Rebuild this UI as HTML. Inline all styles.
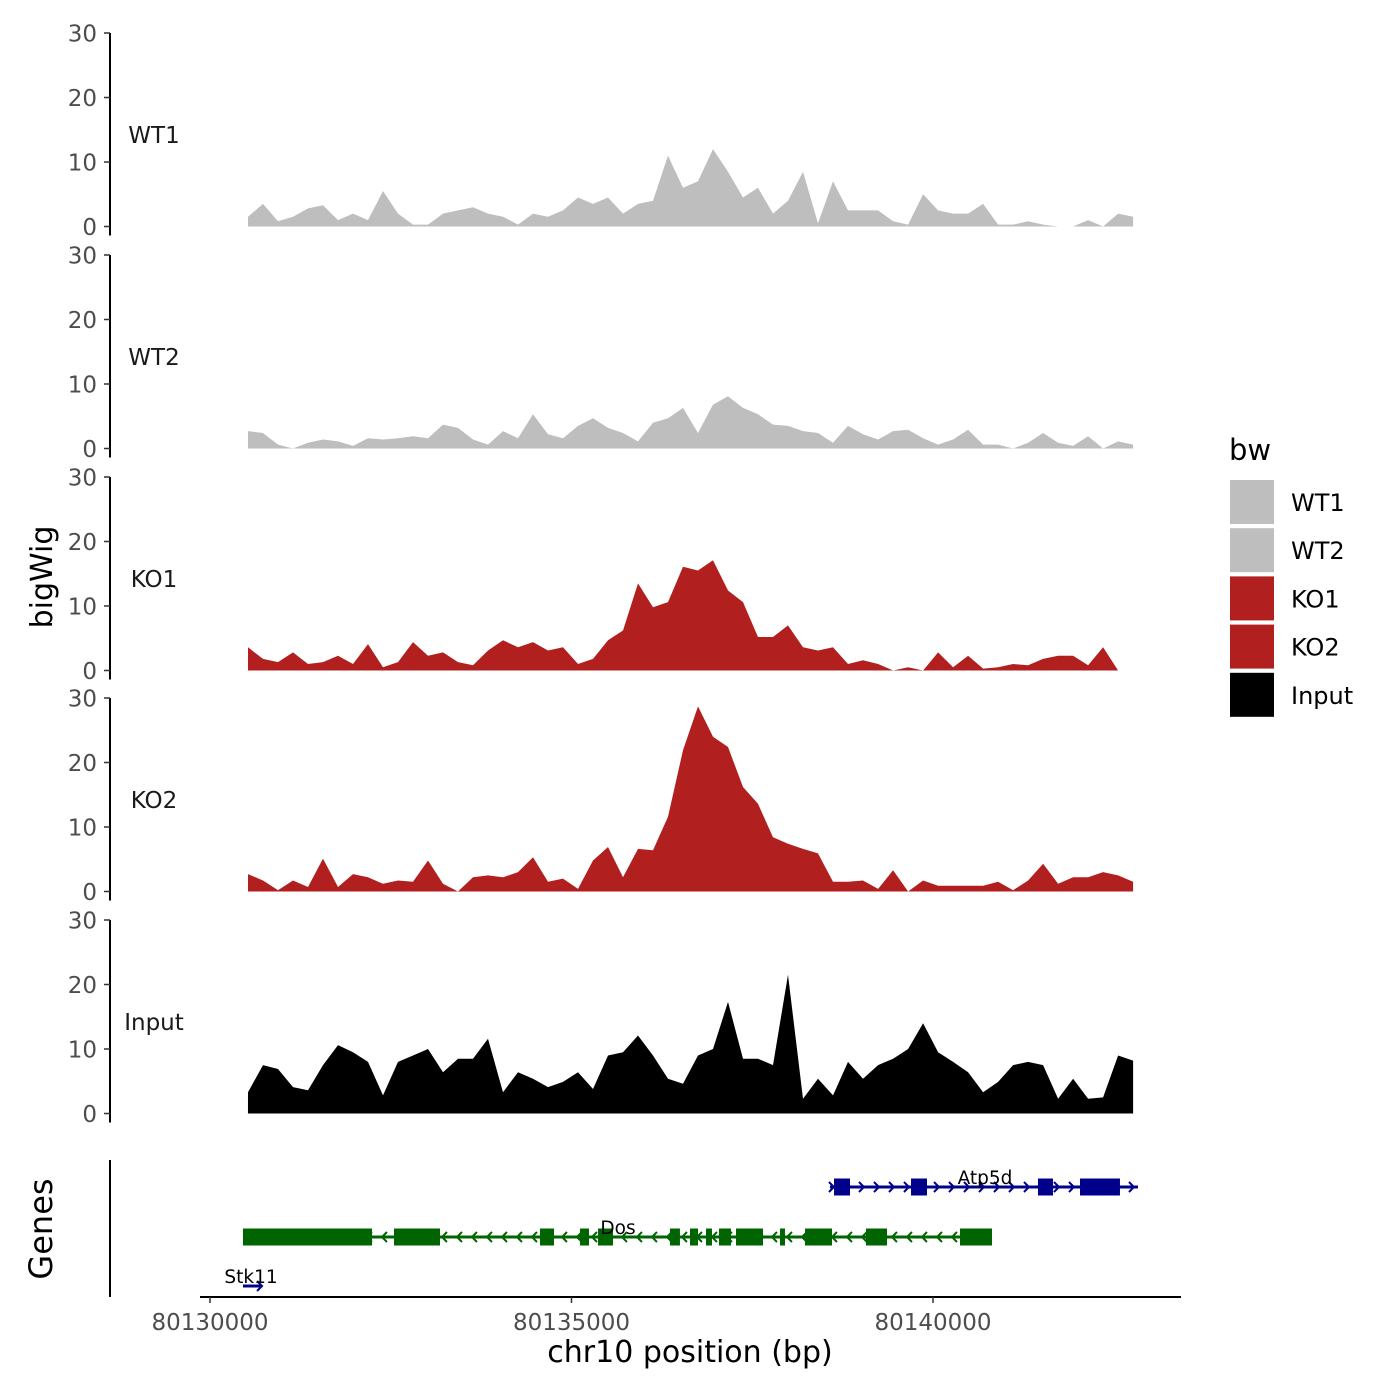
<!DOCTYPE html>
<html><head><meta charset="utf-8"><style>
html,body{margin:0;padding:0;background:#fff;}
svg{display:block;font-family:"DejaVu Sans","Liberation Sans",sans-serif;}
</style></head><body>
<svg id="chart" width="1400" height="1400" viewBox="0 0 1400 1400" xmlns="http://www.w3.org/2000/svg"></svg>
<script>
const trackNames = ["WT1","WT2","KO1","KO2","Input"];
const trackColors = ["#bebebe","#bebebe","#b21f1f","#b21f1f","#000000"];
const yTicks = [0,10,20,30];
const xTicks = [80130000,80135000,80140000];
const xTickLabels = ["80130000","80135000","80140000"];
const binStart = 80130525;
const binStep = 207.5;
const wt1 = [1.5,3.5,0.8,1.5,2.8,3.3,1.0,2.0,1.0,5.5,2.0,0.3,0.3,2.0,2.5,3.0,2.0,1.5,0.3,2.0,1.5,2.5,4.5,3.5,4.5,2.0,3.5,4.0,11,6.0,7.0,12,8.5,4.5,6.0,2.0,4.0,8.5,0.5,7.0,2.5,2.5,2.5,0.8,0.3,5.0,2.5,2.0,2.0,3.5,0.3,0.3,0.8,0.3,0,0,1.0,0,2.0,1.5];
const wt2 = [2.7,2.4,0.6,0,0.9,1.4,1.1,0.4,1.6,1.4,1.6,1.9,1.6,3.7,3.2,1.4,0.6,2.7,1.6,5.3,2.2,1.6,3.5,4.7,3.2,2.4,1.1,4.0,4.7,6.3,2.4,6.8,8.1,6.3,5.3,3.7,3.5,2.7,2.4,0.9,3.5,2.2,1.4,2.7,2.9,1.6,0.6,1.4,2.9,0.6,0.6,0,0.9,2.4,0.9,0.4,1.9,0,1.1,0.6];
const ko1 = [3.6,1.8,1.3,2.8,1.0,1.3,2.3,1.0,4.1,0.5,1.3,4.4,2.3,2.8,1.3,0.8,3.1,4.7,3.6,4.4,3.1,3.6,1.0,1.8,4.7,6.2,13.5,9.8,10.6,16.1,15.5,17.1,12.4,10.6,5.2,5.2,7.0,3.6,3.1,3.6,1.0,1.6,1.0,0,0.5,0,2.8,0.5,2.3,0.3,0.5,1.0,0.8,1.8,2.3,2.3,0.8,3.6,0,0];
const ko2 = [2.7,1.7,0.2,1.7,0.7,5.1,0.7,2.7,2.2,1.2,1.7,1.5,4.8,1.2,0,2.2,2.5,2.2,3.0,5.3,1.5,2.0,0.4,4.8,6.9,2.2,6.6,6.4,11.6,21.9,28.7,24.0,22.4,16.2,13.6,8.4,7.4,6.6,5.9,1.5,1.5,1.7,0.4,3.3,0,1.7,0.9,0.9,0.9,0.9,1.5,0.2,1.7,4.3,1.2,2.2,2.2,3.0,2.5,1.5];
const input = [3.3,7.5,6.9,4.1,3.6,7.5,10.6,9.5,8.0,2.8,8.0,9.0,10.0,6.4,8.5,8.5,11.6,3.3,6.4,5.4,4.1,4.9,6.4,3.8,9.0,9.5,12.1,9.0,5.4,4.6,9.0,10.0,17.3,8.5,8.5,7.5,21.5,2.3,5.4,2.8,8.0,5.4,7.5,8.5,10.0,14,9.5,8.0,6.4,3.3,4.9,7.5,8.0,7.5,2.3,5.4,2.3,2.5,9.0,8.2];
const seriesList = [wt1,wt2,ko1,ko2,input];
const geneNames = ["Atp5d","Dos","Stk11"];
const geneStrand = [1,-1,1];
const geneStart = [80138575,80130456,80130456];
const geneEnd = [80142835,80140816,80130720];
const atp5dExonStart = [80138631,80139696,80141452,80142033];
const atp5dExonEnd = [80138852,80139917,80141660,80142586];
const dosExonStart = [80130456,80132545,80134564,80135118,80135367,80136362,80136639,80136860,80137040,80137275,80137884,80138230,80139073,80140373];
const dosExonEnd = [80132241,80133181,80134758,80135242,80135574,80136500,80136750,80136943,80137206,80137649,80137953,80138603,80139364,80140816];

const svg = document.getElementById('chart');
const NS = 'http://www.w3.org/2000/svg';
function mk(tag, attrs, parent){const e=document.createElementNS(NS,tag);for(const k in attrs)e.setAttribute(k,attrs[k]);(parent||svg).appendChild(e);return e;}
const xScale = bp => 210 + (bp-80130000)*361.5/5000;
const panelTop = [33,255,477,698,920];
const panelH = 193.5;
const yScale = (p,v) => panelTop[p] + panelH - v*panelH/30;

for(let p=0;p<5;p++){
  const g = mk('g',{});
  
  
  const vals = seriesList[p];
  let d = 'M'+xScale(binStart)+','+yScale(p,0);
  vals.forEach((v,i)=>{d+=' L'+xScale(binStart+i*binStep).toFixed(1)+','+yScale(p,v).toFixed(1);});
  d += ' L'+xScale(binStart+(vals.length-1)*binStep).toFixed(1)+','+yScale(p,0)+' Z';
  const area = mk('path',{d:d,fill:trackColors[p],stroke:'none'},g);
  
  
  const ax = mk('line',{x1:110,x2:110,y1:yScale(p,30),y2:yScale(p,0)+9,stroke:'#000','stroke-width':2},g);
  
  
  yTicks.forEach(t=>{
    const y=yScale(p,t);
    const tk = mk('line',{x1:104,x2:110,y1:y,y2:y,stroke:'#333','stroke-width':1.5},g);
    
    
    const tl = mk('text',{x:97,y:y+8.5,'text-anchor':'end','font-size':23,fill:'#4d4d4d'},g);
    tl.textContent=String(t);
    
    
  });
  const lab = mk('text',{x:154,y:panelTop[p]+110,'text-anchor':'middle','font-size':23,fill:'#1a1a1a'},g);
  lab.textContent=trackNames[p];
  
  
}

// genes panel
const gg = mk('g',{});


const gax = mk('line',{x1:110,x2:110,y1:1160,y2:1297,stroke:'#000','stroke-width':2},gg);


const geneY=[1187,1237,1286];
const geneCol=['#00008b','#006400','#00008b'];
const exStarts=[atp5dExonStart,dosExonStart,[]];
const exEnds=[atp5dExonEnd,dosExonEnd,[]];
const labelX=[985,618,251];
for(let gi=0;gi<3;gi++){
  const y=geneY[gi], c=geneCol[gi];
  const x1=xScale(geneStart[gi]), x2=xScale(geneEnd[gi]);
  const ln = mk('line',{x1:x1,x2:x2,y1:y,y2:y,stroke:c,'stroke-width':3},gg);
  
  
  const s=geneStrand[gi];
  for(let ax=x1+4; ax<=x2; ax+= (gi==2?100:15)){
    const tip = gi==2 ? x2 : ax;
    const ch = mk('path',{d:'M'+(tip-5*s)+','+(y-5)+' L'+tip+','+y+' L'+(tip-5*s)+','+(y+5),fill:'none',stroke:c,'stroke-width':2},gg);
    
    
    if(gi==2)break;
  }
  exStarts[gi].forEach((st,k)=>{
    const a=xScale(st), b=xScale(exEnds[gi][k]);
    const r = mk('rect',{x:a,y:y-8.5,width:Math.max(b-a,3),height:17,fill:c},gg);
    
    
  });
  const t = mk('text',{x:labelX[gi],y:y-3,'text-anchor':'middle','font-size':18.5,fill:'#000'},gg);
  t.textContent=geneNames[gi];
  
  
}

// x axis
const xa = mk('line',{x1:200,x2:1181,y1:1297,y2:1297,stroke:'#000','stroke-width':2});


xTicks.forEach((t,i)=>{
  const x=xScale(t);
  const tk = mk('line',{x1:x,x2:x,y1:1297,y2:1303,stroke:'#333','stroke-width':1.5});
  
  
  const tl = mk('text',{x:x,y:1330,'text-anchor':'middle','font-size':23,fill:'#4d4d4d'});
  tl.textContent=xTickLabels[i];
  
  
});
const xt = mk('text',{x:690,y:1362,'text-anchor':'middle','font-size':30,fill:'#000'});
xt.textContent='chr10 position (bp)';


const yt = mk('text',{x:0,y:0,'text-anchor':'middle','font-size':30,fill:'#000',transform:'translate(52,577) rotate(-90)'});
yt.textContent='bigWig';


const gt = mk('text',{x:0,y:0,'text-anchor':'middle','font-size':32,fill:'#000',transform:'translate(52,1229) rotate(-90)'});
gt.textContent='Genes';



// legend
const lg = mk('g',{});


const lt = mk('text',{x:1229,y:460,'font-size':29,fill:'#000'},lg);
lt.textContent='bw';


trackNames.forEach((n,i)=>{
  const y=480+i*48.2;
  const r = mk('rect',{x:1230,y:y,width:44,height:44,fill:trackColors[i]},lg);
  
  
  const t = mk('text',{x:1291,y:y+31,'font-size':24,fill:'#000'},lg);
  t.textContent=n;
  
  
});
</script>
</body></html>
